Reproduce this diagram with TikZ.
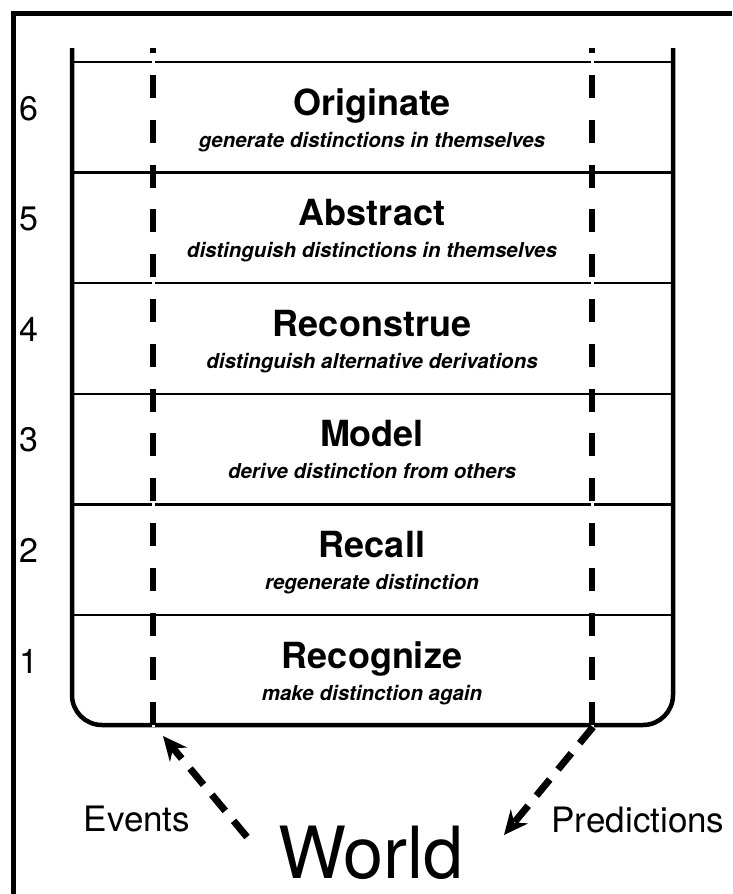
\documentclass[tikz,border=0pt]{standalone}
\usepackage{fontspec}
\setmainfont{TeX Gyre Heros}
\usetikzlibrary{arrows.meta}
\tikzset{
  rowtitle/.style={anchor=base,font=\fontsize{36}{40}\selectfont\bfseries},
  rowsub/.style={anchor=base,font=\fontsize{20.5}{24}\selectfont\bfseries\itshape},
  rownum/.style={anchor=base,font=\fontsize{34}{36}\selectfont},
  sidelabel/.style={anchor=base,font=\fontsize{35}{38}\selectfont},
  flowdash/.style={line width=5.5pt,dash pattern=on 23pt off 21.8pt,dash phase=17.8pt},
  flowarrow/.style={line width=7pt,dash pattern=on 21pt off 13pt,-{Stealth[length=24pt,width=22pt,inset=8pt]}}
}
\begin{document}
\begin{tikzpicture}[x=1pt,y=-1pt]
  \useasboundingbox (0,0) rectangle (732,894);
      \draw[line width=5pt] (13,894) -- (13,13) -- (732,13); % outer frame
      \draw[line width=4.5pt,rounded corners=30pt] (72,48) -- (72,725) -- (673,725) -- (673,48); % levels box
      \foreach \n/\ttl/\sub [count=\i from 0] in {
          6/Originate/generate distinctions in themselves,
          5/Abstract/distinguish distinctions in themselves,
          4/Reconstrue/distinguish alternative derivations,
          3/Model/derive distinction from others,
          2/Recall/regenerate distinction,
          1/Recognize/make distinction again}{
        \pgfmathsetmacro\rowtop{62+110.6*\i}
        \draw[line width=2.5pt] (72,\rowtop) -- (673,\rowtop); % level divider
        \node[rownum] (num\n) at (29,\rowtop+58) {\n}; % level number
        \node[rowtitle] (title\n) at (372,\rowtop+53) {\ttl}; % level name
        \node[rowsub] (sub\n) at (372,\rowtop+85) {\sub}; % level meaning
      }
      \draw[white,line width=3pt] (153,48) -- (153,727) (592,48) -- (592,727); % cut under flow lines
      \draw[flowdash] (153,48) -- (153,726); % events flow
      \draw[flowdash] (592,48) -- (592,726); % predictions flow
      \node[sidelabel] (events) at (137,831) {Events}; % Events label
      \node[sidelabel] (predictions) at (638,832) {Predictions}; % Predictions label
      \node[anchor=base,font=\fontsize{72}{76}\selectfont] (world) at (371,878) {World}; % World label
      \coordinate (evtail) at (247,837);
      \coordinate (evtip) at (163,736);
      \coordinate (prtail) at (593,727);
      \coordinate (prtip) at (504,835);
      \draw[flowarrow] (evtail) -- (evtip); % events arrow
      \draw[flowarrow] (prtail) -- (prtip); % predictions arrow
\end{tikzpicture}
\end{document}
